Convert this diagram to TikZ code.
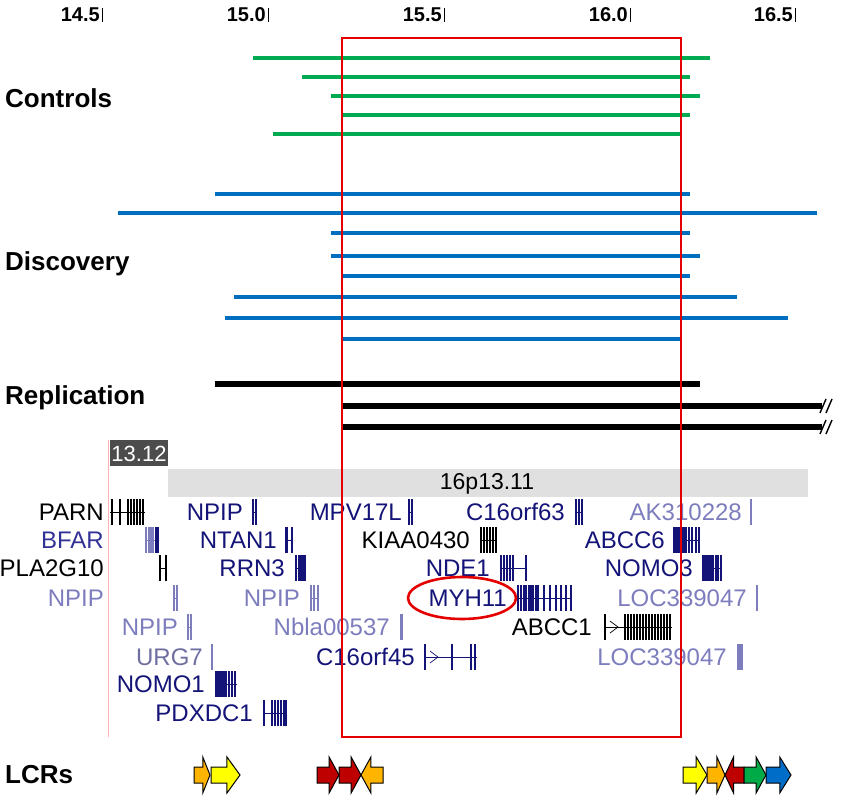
\documentclass[tikz,border=0pt]{standalone}
\usepackage{fontspec}
\setmainfont{Liberation Sans}
\begin{document}
\definecolor{navy}{RGB}{20,20,120}
\definecolor{lite}{RGB}{125,125,190}
\definecolor{urg}{RGB}{110,110,160}
\definecolor{bfar}{RGB}{50,50,150}
\definecolor{cgreen}{RGB}{0,170,80}
\definecolor{cblue}{RGB}{0,110,190}
\definecolor{lred}{RGB}{190,0,0}
\definecolor{lorange}{RGB}{255,180,0}
\definecolor{lyellow}{RGB}{255,255,0}
\definecolor{lgreen}{RGB}{0,170,70}
\definecolor{lblue}{RGB}{0,110,200}
\newcommand\gn[5]{% x1 x2 y color {bar list}
  \draw[#4,line width=0.8pt] (#1,#3) -- (#2,#3);
  \foreach \b in {#5} \draw[#4,line width=2.2pt] (\b,#3-13) -- (\b,#3+13);}
\newcommand\gl[4]{\node[glab,text=#4,anchor=east] at (#1,#2) {#3};}
\newcommand\lcr[4]{% x1 x2 dir(1 right/-1 left) color
  \pgfmathsetmacro\hl{0.45*(#2-#1)}
  \ifnum#3=1
    \draw[line width=1pt,fill=#4] (#1,767) -- (#2-\hl,767) -- (#2-\hl,757) -- (#2,775) -- (#2-\hl,793) -- (#2-\hl,783) -- (#1,783) -- cycle;
  \else
    \draw[line width=1pt,fill=#4] (#2,767) -- (#1+\hl,767) -- (#1+\hl,757) -- (#1,775) -- (#1+\hl,793) -- (#1+\hl,783) -- (#2,783) -- cycle;
  \fi}
\begin{tikzpicture}[x=1pt,y=-1pt,
  ax/.style={font=\fontsize{20}{20}\selectfont\bfseries},
  sec/.style={font=\fontsize{26}{26}\selectfont\bfseries,anchor=west,inner sep=0pt},
  glab/.style={font=\fontsize{24}{24}\selectfont,inner sep=0pt},
  ctl/.style={cgreen,line width=4.5pt},
  dis/.style={cblue,line width=4.5pt},
  rep/.style={black,line width=6pt}]
\useasboundingbox (0,0) rectangle (841,800);
% axis
\foreach \x/\t in {102/14.5,268/15.0,444/15.5,630/16.0,795/16.5}{
  \node[ax,anchor=east,inner sep=0pt] at (\x-2,15) {\t};
  \draw[line width=1pt] (\x,8) -- (\x,22);}
% section labels
\node[sec] (c) at (5,98) {Controls};
\node[sec] (d) at (5,264) {Discovery};
\node[sec] (r) at (5,398) {Replication};
\node[sec] (l) at (5,775) {LCRs};
% controls
\draw[ctl] (253,58)--(710,58); \draw[ctl] (302,77)--(690,77);
\draw[ctl] (331,96)--(700,96); \draw[ctl] (342,115)--(690,115);
\draw[ctl] (273,134)--(681,134);
% discovery
\draw[dis] (215,194)--(690,194); \draw[dis] (118,213)--(817,213);
\draw[dis] (331,233)--(690,233); \draw[dis] (331,256)--(700,256);
\draw[dis] (342,276)--(690,276); \draw[dis] (234,297)--(737,297);
\draw[dis] (225,318)--(788,318); \draw[dis] (342,339)--(681,339);
% replication
\draw[rep] (215,384)--(700,384);
\draw[rep] (342,406)--(822,406); \draw[rep] (342,427)--(822,427);
\foreach \y in {406,427}{
  \draw[line width=1.4pt] (820,\y+7)--(826,\y-7);
  \draw[line width=1.4pt] (826,\y+7)--(832,\y-7);}
% ideogram
\draw[red!30,line width=0.8pt] (108,440)--(108,737);
\fill[black!70] (110,440) rectangle (168,466);
\node[text=white,font=\fontsize{22}{22}\selectfont] (b1) at (139,454) {13.12};
\fill[black!12] (168,469) rectangle (808,497);
\node[font=\fontsize{23}{23}\selectfont] (b2) at (487,484) {16p13.11};
% genes
\gl{104}{512}{PARN}{black}\gn{110}{145}{512}{black}{112,120,128,131,134,137,140,143}
\gl{243}{512}{NPIP}{navy}\gn{252}{257}{512}{navy}{253,256}
\gl{402}{512}{MPV17L}{navy}\gn{408}{412}{512}{navy}{409,412}
\gl{565}{512}{C16orf63}{navy}\gn{575}{583}{512}{navy}{576,579,582}
\gl{742}{512}{AK310228}{lite}\gn{750}{752}{512}{lite}{751}
\gl{104}{540}{BFAR}{bfar}\gn{145}{158}{540}{lite}{146,149,151,153}\gn{155}{158}{540}{navy}{156,158}
\gl{277}{540}{NTAN1}{navy}\gn{285}{293}{540}{navy}{286,287,292}
\gl{470}{540}{KIAA0430}{black}\gn{480}{497}{540}{black}{481,484,487,490,493,496}
\gl{665}{540}{ABCC6}{navy}\gn{673}{700}{540}{navy}{674,676,678,680,682,684,686,689,692,696,699}
\gl{104}{568}{PLA2G10}{black}\gn{159}{167}{568}{black}{160,166}
\gl{285}{568}{RRN3}{navy}\gn{295}{306}{568}{navy}{296,299,301,303,305}
\gl{490}{568}{NDE1}{navy}\gn{500}{527}{568}{navy}{501,504,507,510,513,526}
\gl{693}{568}{NOMO3}{navy}\gn{702}{722}{568}{navy}{703,705,707,709,711,713,716,718,721}
\gl{104}{598}{NPIP}{lite}\gn{173}{178}{598}{lite}{174,177}
\gl{300}{598}{NPIP}{lite}\gn{310}{319}{598}{lite}{311,314,318}
\gl{507}{598}{MYH11}{navy}\gn{517}{572}{598}{navy}{518,521,524,526,529,531,533,536,538,544,550,556,561,566,571}
\gl{747}{598}{LOC339047}{lite}\gn{756}{758}{598}{lite}{757}
\gl{178}{627}{NPIP}{lite}\gn{187}{192}{627}{lite}{188,191}
\gl{390}{627}{Nbla00537}{lite}\gn{400}{403}{627}{lite}{401,402}
\gl{592}{627}{ABCC1}{black}\gn{604}{672}{627}{black}{605,625,628,631,634,637,640,643,646,649,652,655,658,661,664,667,670}
\gl{203}{657}{URG7}{urg}\gn{211}{212}{657}{lite}{212}
\gl{415}{657}{C16orf45}{navy}\gn{424}{477}{657}{navy}{425,452,471,475}
\gl{727}{657}{LOC339047}{lite}\gn{737}{743}{657}{lite}{738,740,742}
\gl{205}{684}{NOMO1}{navy}\gn{215}{237}{684}{navy}{216,218,220,222,224,226,229,232,235}
\gl{253}{713}{PDXDC1}{navy}\gn{263}{287}{713}{navy}{264,272,275,278,281,284,286}
\draw[navy,line width=0.7pt] (430,651)--(438,657)--(430,663);
\draw[black,line width=0.7pt] (610,621)--(618,627)--(610,633);
% red box and ellipse
\draw[red!90!black,line width=2.6pt] (342,38) rectangle (681,737);
\draw[red!90!black,line width=2.6pt] (462,598) ellipse [x radius=54,y radius=21];
% LCRs
\lcr{194}{210}{1}{lorange}\lcr{211}{240}{1}{lyellow}
\lcr{317}{339}{1}{lred}\lcr{339}{361}{1}{lred}\lcr{361}{383}{-1}{lorange}
\lcr{683}{707}{1}{lyellow}\lcr{707}{725}{1}{lorange}\lcr{725}{744}{-1}{lred}
\lcr{744}{766}{1}{lgreen}\lcr{766}{791}{1}{lblue}
\end{tikzpicture}
\end{document}
